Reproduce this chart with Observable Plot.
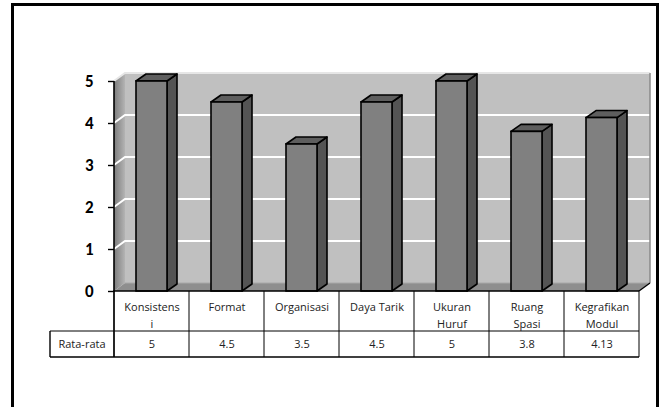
<!DOCTYPE html>
<html><head><meta charset="utf-8">
<script src="https://cdn.jsdelivr.net/npm/d3@7"></script>
<script src="https://cdn.jsdelivr.net/npm/@observablehq/plot@0.6"></script>
<style>
body{margin:0;background:#fff;}
#wrap{position:relative;width:665px;height:407px;overflow:hidden;}
#border{position:absolute;left:11px;top:3px;width:642px;height:430px;border:3px solid #000;pointer-events:none;}
</style></head><body><div id="wrap"><div id="border"></div></div>
<script>
const categories = ["Konsistensi","Format","Organisasi","Daya Tarik","Ukuran Huruf","Ruang Spasi","Kegrafikan Modul"];
const categoryLabels = ["Konsistens\ni","Format","Organisasi","Daya Tarik","Ukuran\nHuruf","Ruang\nSpasi","Kegrafikan\nModul"];
const values = [5, 4.5, 3.5, 4.5, 5, 3.8, 4.13];
const valueLabels = ["5","4.5","3.5","4.5","5","3.8","4.13"];
const seriesName = "Rata-rata";
const yTicks = [0, 1, 2, 3, 4, 5];

const data = categories.map((c, i) => ({cat: c, label: categoryLabels[i], value: values[i], text: valueLabels[i]}));

const WALL = {dx: 11, dy: -8};
const BAR = {dx: 10, dy: -7};
const ROW1 = 40, ROW2 = 26, LABELCOL = 64;
const AXISFONT = "Carlito, Lato, sans-serif";
const FONT = "'Open Sans', 'Noto Sans', sans-serif";

function ns(tag, attrs) {
  const e = document.createElementNS("http://www.w3.org/2000/svg", tag);
  for (const k in attrs) e.setAttribute(k, attrs[k]);
  return e;
}
function poly(pts, fill, stroke, sw) {
  return ns("polygon", {points: pts.map(p => p.join(",")).join(" "), fill, stroke: stroke || "none", "stroke-width": sw || 0, "stroke-linejoin": "round"});
}
function line(x1, y1, x2, y2, stroke, sw) {
  return ns("line", {x1, y1, x2, y2, stroke, "stroke-width": sw});
}
function bw(x) { return typeof x.bandwidth === "function" ? x.bandwidth() : x.bandwidth; }
function extent(scales) {
  const {x, y} = scales;
  const b = bw(x);
  return {x0: x(categories[0]), x1: x(categories[categories.length - 1]) + b, y0: y(0), y1: y(d3.max(yTicks)), b};
}

function wallMark(index, scales) {
  const {y} = scales;
  const {x0, x1, y0, y1} = extent(scales);
  const {dx, dy} = WALL;
  const g = ns("g", {});
  const defs = ns("defs", {});
  const lg = ns("linearGradient", {id: "sideGrad", x1: "0", y1: "0", x2: "1", y2: "0"});
  lg.append(ns("stop", {offset: "0", "stop-color": "#7c7c7c"}));
  lg.append(ns("stop", {offset: "1", "stop-color": "#b4b4b4"}));
  defs.append(lg);
  g.append(defs);
  g.append(poly([[x0 + dx, y1 + dy], [x1 + dx, y1 + dy], [x1 + dx, y0 + dy], [x0 + dx, y0 + dy]], "#c0c0c0"));
  g.append(poly([[x0, y1], [x0 + dx, y1 + dy], [x0 + dx, y0 + dy], [x0, y0]], "url(#sideGrad)"));
  g.append(poly([[x0, y0], [x0 + dx, y0 + dy], [x1 + dx, y0 + dy], [x1, y0]], "#8e8e8e"));
  g.append(line(x0 + dx, y0 + dy, x1 + dx, y0 + dy, "#a8a8a8", 1));
  for (const t of yTicks) if (t > 0) {
    g.append(ns("polyline", {points: `${x0},${y(t)} ${x0 + dx},${y(t) + dy} ${x1 + dx},${y(t) + dy}`, fill: "none", stroke: t === d3.max(yTicks) ? "#e6e6e6" : "#ffffff", "stroke-width": 2}));
  }
  g.append(line(x1 + dx, y1 + dy, x1 + dx, y0 + dy, "#8a8a8a", 1.5));
  g.append(line(x1, y0, x1 + dx, y0 + dy, "#000", 1.2));
  return g;
}

function barSides(index, scales) {
  const {x, y} = scales;
  const b = bw(x);
  const inset = b * 22 / 75;
  const {dx, dy} = BAR;
  const g = ns("g", {});
  for (const d of data) {
    const xl = x(d.cat) + inset, xr = x(d.cat) + b - inset, yt = y(d.value), yb = y(0);
    g.append(poly([[xr, yt], [xr + dx, yt + dy], [xr + dx, yb + dy], [xr, yb]], "#545454", "#000", 1.6));
    g.append(poly([[xl, yt], [xl + dx, yt + dy], [xr + dx, yt + dy], [xr, yt]], "#5e5e5e", "#000", 1.6));
  }
  return g;
}

function tableMark(index, scales) {
  const {x} = scales;
  const {x0, x1, y0, b} = extent(scales);
  const g = ns("g", {});
  const yA = y0 + ROW1, yB = y0 + ROW1 + ROW2, xL = x0 - LABELCOL;
  g.append(line(x0, y0, x1, y0, "#000", 1.6));
  g.append(line(xL, yA, x1, yA, "#000", 1));
  g.append(line(xL, yB, x1, yB, "#000", 1.4));
  g.append(line(xL, yA, xL, yB, "#000", 1.4));
  categories.forEach((c, i) => g.append(line(x(c), y0, x(c), yB, "#000", 1)));
  g.append(line(x1, y0, x1, yB, "#000", 1));
  g.append(line(x0, y0 - 1, x0, yB, "#000", 1.4));
  const t = ns("text", {x: xL + LABELCOL / 2, y: yA + ROW2 / 2, "text-anchor": "middle", dy: "0.32em", "font-family": FONT, "font-size": 11, "font-weight": "normal", fill: "#222"});
  t.textContent = seriesName;
  g.append(t);
  return g;
}

function axisLine(index, scales) {
  const {x0, y0, y1} = extent(scales);
  return line(x0, y1, x0, y0 + 1, "#000", 1.6);
}

const plot = Plot.plot({
  width: 665,
  height: 407,
  marginLeft: 114,
  marginRight: 26,
  marginTop: 81,
  marginBottom: 116,
  style: {background: "transparent", fontFamily: FONT, overflow: "visible"},
  x: {domain: categories, padding: 0, axis: null},
  y: {domain: [0, 5], axis: null},
  marks: [
    wallMark,
    barSides,
    Plot.barY(data, {x: "cat", y: "value", fill: "#808080", stroke: "#000", strokeWidth: 1.6, insetLeft: 22, insetRight: 22}),
    tableMark,
    Plot.text(data, {x: "cat", y: () => 0, text: "label", dy: 8, lineAnchor: "top", lineHeight: 1.5, fontSize: 11, fontWeight: "normal", fill: "#222", fontFamily: FONT}),
    Plot.text(data, {x: "cat", y: () => 0, text: "text", dy: ROW1 + ROW2 / 2, lineAnchor: "middle", fontSize: 11, fontWeight: "normal", fill: "#222", fontFamily: FONT}),
    Plot.axisY({ticks: yTicks, label: null, tickSize: 6, tickPadding: 15, fontSize: 17, fontWeight: "bold", tickFormat: d => String(d), fill: "#000", strokeWidth: 1.4, fontFamily: AXISFONT}),
    axisLine
  ]
});
document.getElementById("wrap").prepend(plot);
</script>
</body></html>
